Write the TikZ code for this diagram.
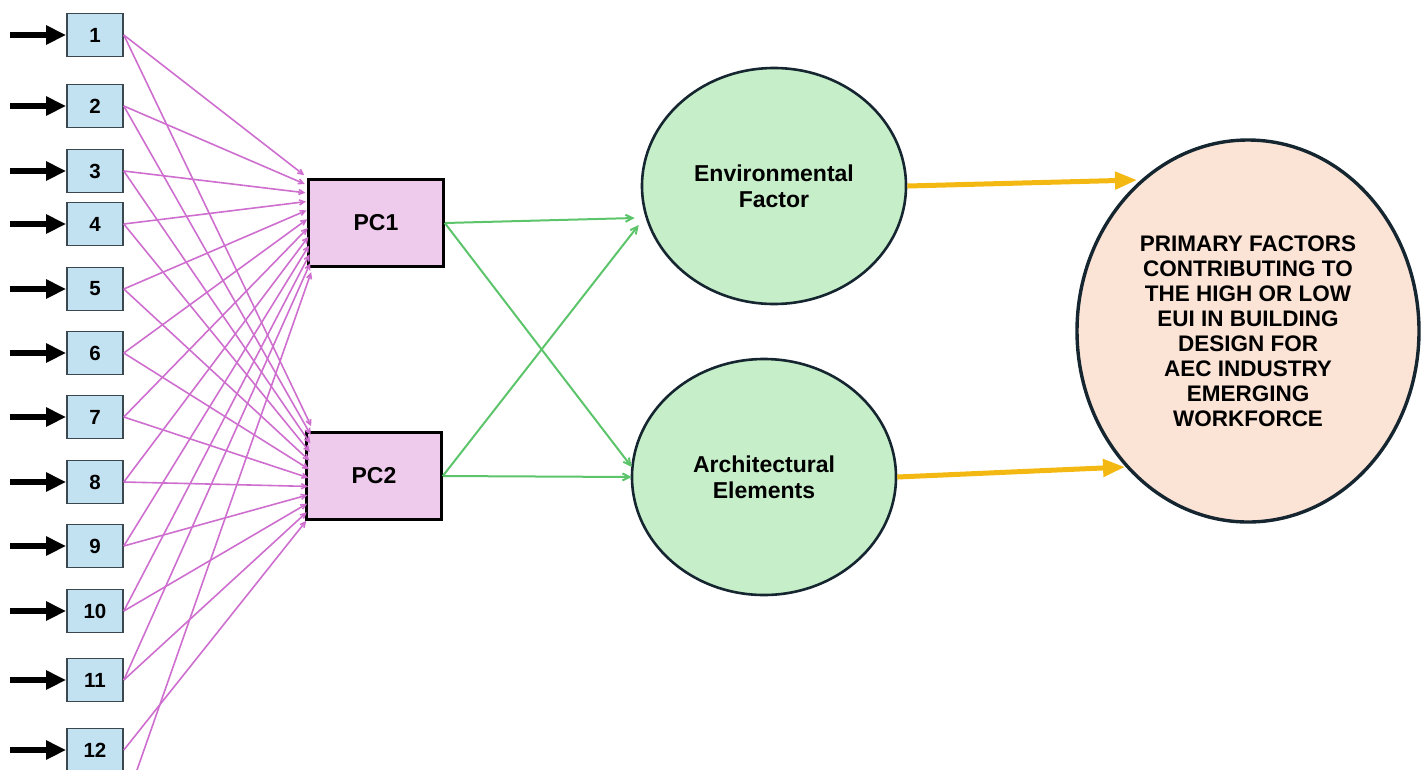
\documentclass[tikz,border=0pt]{standalone}
\usepackage{fontspec}
\setmainfont{Liberation Sans}
\usetikzlibrary{arrows.meta,calc,shapes.geometric}
\definecolor{boxblue}{RGB}{194,226,242}
\definecolor{boxedge}{RGB}{60,72,80}
\definecolor{pcfill}{RGB}{238,202,236}
\definecolor{envfill}{RGB}{198,238,201}
\definecolor{bigfill}{RGB}{251,227,214}
\definecolor{darkedge}{RGB}{22,38,48}
\definecolor{pinkline}{RGB}{206,110,206}
\definecolor{greenline}{RGB}{92,196,106}
\definecolor{gold}{RGB}{244,184,18}
\tikzset{
  inbox/.style={draw=boxedge, line width=1.6pt, fill=boxblue, minimum width=56pt, minimum height=43pt, inner sep=0pt, font=\bfseries\fontsize{20.5}{20.5}\selectfont},
  pcbox/.style={draw=black, line width=2.6pt, fill=pcfill, minimum width=135pt, minimum height=87pt, inner sep=0pt, font=\bfseries\fontsize{23}{23}\selectfont},
  factor/.style={ellipse, draw=darkedge, line width=2.6pt, fill=envfill, minimum width=264pt, minimum height=236pt, inner sep=0pt, align=center, font=\bfseries\fontsize{23}{26}\selectfont},
  goal/.style={ellipse, draw=darkedge, line width=3.4pt, fill=bigfill, minimum width=342pt, minimum height=382pt, inner sep=0pt, align=center, font=\bfseries\fontsize{22.5}{25}\selectfont},
  feed/.style={line width=5.5pt, -{Triangle[length=20pt,width=18pt]}, black},
  pinkarrow/.style={draw=pinkline, line width=1.6pt, -{Straight Barb[length=5pt,width=5pt]}},
  greenarrow/.style={draw=greenline, line width=2pt, -{Straight Barb[length=7pt,width=7pt]}},
  goldarrow/.style={draw=gold, line width=5pt, -{Triangle[length=22pt,width=17pt]}}
}
\begin{document}
\begin{tikzpicture}[x=1pt,y=-1pt]
\useasboundingbox (0,0) rectangle (1421,769);
\clip (0,0) rectangle (1421,769);

% input boxes
\foreach \n/\yy in {1/35,2/106,3/171,4/224,5/289,6/353,7/417,8/482,9/546,10/611,11/680,12/750}{
  \node[inbox] (i\n) at (95,\yy) {\n};
  \coordinate (s\n) at (10,\yy);
  \draw[feed] (s\n) -- (i\n.west);
}

% PCs
\node[pcbox] (pc1) at (376,223) {PC1};
\node[pcbox] (pc2) at (374,476) {PC2};

% factors
\node[factor] (env) at (774,186) {Environmental\\Factor};
\node[factor] (arch) at (764,477) {Architectural\\Elements};

% goal
\node[goal] (goal) at (1248,331) {PRIMARY FACTORS\\CONTRIBUTING TO\\THE HIGH OR LOW\\EUI IN BUILDING\\DESIGN FOR\\AEC INDUSTRY\\EMERGING\\WORKFORCE};

% pink connectors
\foreach \n in {1,...,11}{
  \draw[pinkarrow] (i\n.east) -- ($(pc1.north west)+({-3+(\n-1)*0.6},{-3+(\n-1)*8.8})$);
}
\coordinate (i12low) at (130,790);
\draw[pinkarrow] (i12low) -- ($(pc1.north west)+(4,94)$);
\foreach \n in {1,...,12}{
  \draw[pinkarrow] (i\n.east) -- ($(pc2.north west)+({6-(\n-1)*0.45},{-5+(\n-1)*8.6})$);
}

% green connectors
\draw[greenarrow] (pc1.east) -- ($(env.west)+(-6,32)$);
\draw[greenarrow] (pc1.east) -- ($(arch.west)+(1,-10)$);
\draw[greenarrow] (pc2.east) -- ($(env.west)+(-2,39)$);
\draw[greenarrow] (pc2.east) -- ($(arch.west)+(1,0)$);

% gold connectors
\draw[goldarrow] (env.east) -- ($(goal.center)+(-111,-151)$);
\draw[goldarrow] (arch.east) -- ($(goal.center)+(-123,136)$);
\end{tikzpicture}
\end{document}
